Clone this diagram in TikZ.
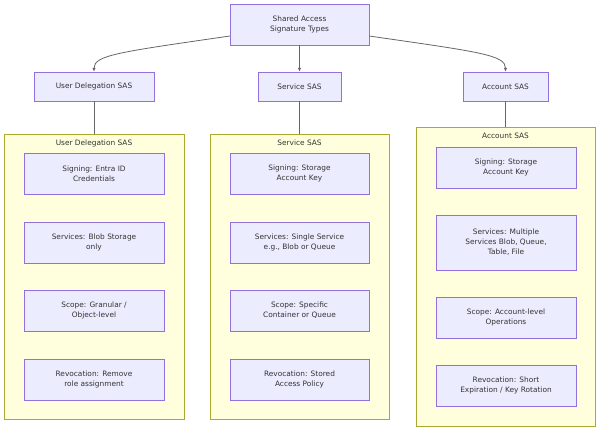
\documentclass[tikz,border=0pt]{standalone}
\usepackage{fontspec}
\setmainfont{DejaVu Sans}
\usetikzlibrary{arrows.meta}
\definecolor{boxfill}{HTML}{ECECFF}
\definecolor{boxline}{HTML}{9370DB}
\definecolor{grpfill}{HTML}{FFFFDE}
\definecolor{grpline}{HTML}{AAAA33}
\definecolor{txtcol}{HTML}{333333}
\tikzset{
  sasbox/.style={draw=boxline, fill=boxfill, text=txtcol, align=center, font=\fontsize{7.4}{10}\selectfont, inner sep=0pt},
  grp/.style={draw=grpline, fill=grpfill},
  link/.style={draw=black!60, thick},
}
\begin{document}
\begin{tikzpicture}[x=1pt,y=-1pt]
  \useasboundingbox (0,0) rectangle (600,432);

  %groups
  \foreach \x/\y/\X/\Y/\name/\lbl in {4/134/184/419/gU/User Delegation SAS, 210/134/389/419/gS/Service SAS, 416/127/595/426/gA/Account SAS}{
    \draw[grp] (\x,\y) rectangle (\X,\Y);
    \node[text=txtcol, font=\fontsize{7.4}{10}\selectfont, anchor=north] (\name) at ({(\x+\X)/2},\y+2) {\lbl};
  }

  %top
  \node[sasbox, minimum width=139, minimum height=41] (top) at (299.5,24.5) {Shared Access\\Signature Types};
  \node[sasbox, minimum width=120, minimum height=29] (ud) at (94,86.5) {User Delegation SAS};
  \node[sasbox, minimum width=83, minimum height=29] (sv) at (299.5,86.5) {Service SAS};
  \node[sasbox, minimum width=85, minimum height=29] (ac) at (505.5,86.5) {Account SAS};

  %inner boxes
  \foreach \y/\h/\name/\lbl in {173.5/41/u1/{Signing: Entra ID\\Credentials}, 242.5/41/u2/{Services: Blob Storage\\only}, 310.5/41/u3/{Scope: Granular /\\Object-level}, 379.5/41/u4/{Revocation: Remove\\role assignment}}{
    \node[sasbox, minimum width=140, minimum height=\h] (\name) at (94,\y) {\lbl};
  }
  \foreach \y/\h/\name/\lbl in {173.5/41/s1/{Signing: Storage\\Account Key}, 242.5/41/s2/{Services: Single Service\\e.g., Blob or Queue}, 310.5/41/s3/{Scope: Specific\\Container or Queue}, 379.5/41/s4/{Revocation: Stored\\Access Policy}}{
    \node[sasbox, minimum width=139, minimum height=\h] (\name) at (299.5,\y) {\lbl};
  }
  \foreach \y/\h/\name/\lbl in {167.5/41/a1/{Signing: Storage\\Account Key}, 242.5/55/a2/{Services: Multiple\\Services Blob, Queue,\\Table, File}, 317.5/41/a3/{Scope: Account-level\\Operations}, 385.5/41/a4/{Revocation: Short\\Expiration / Key Rotation}}{
    \node[sasbox, minimum width=140, minimum height=\h] (\name) at (506,\y) {\lbl};
  }

  %edges
  \draw[link, -{Latex[length=4pt,width=3.5pt]}] (top.west |- 0,36) .. controls (120,52) and (94,55) .. (ud.north);
  \draw[link, -{Latex[length=4pt,width=3.5pt]}] (top.south) -- (sv.north);
  \draw[link, -{Latex[length=4pt,width=3.5pt]}] (top.east |- 0,36) .. controls (480,52) and (505.5,55) .. (ac.north);
  \draw[link] (ud.south) -- (ud.south |- 0,134);
  \draw[link] (sv.south) -- (sv.south |- 0,134);
  \draw[link] (ac.south) -- (ac.south |- 0,127);
\end{tikzpicture}
\end{document}
